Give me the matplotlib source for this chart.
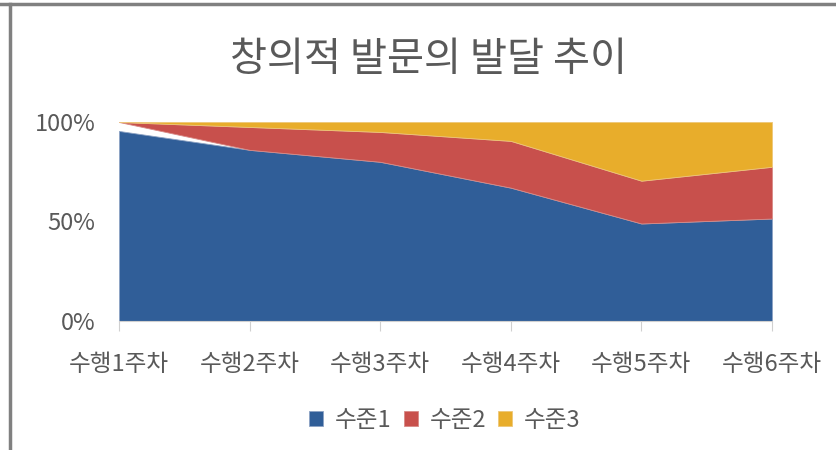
import matplotlib.pyplot as plt
import numpy as np

plt.rcParams['font.family'] = ['Noto Sans CJK KR', 'DejaVu Sans']

weeks = ["수행1주차", "수행2주차", "수행3주차", "수행4주차", "수행5주차", "수행6주차"]
level1 = [95.5, 86, 80, 67, 49, 51.5]
level2 = [0, 11.5, 15, 23.5, 21.5, 26]
level3 = [0, 2.5, 5, 9.5, 29.5, 22.5]
series_names = ["수준1", "수준2", "수준3"]
colors = ["#305E98", "#C8504C", "#E8AD2B"]
text_color = "#595959"

x = np.arange(len(weeks))
l1 = np.array(level1)
l2 = np.array(level2)
l3 = np.array(level3)

fig = plt.figure(figsize=(8.36, 4.5), dpi=100)
ax = fig.add_axes([119 / 836, 1 - 321 / 450, (772 - 119) / 836, (321 - 122) / 450])

# blue from the bottom, red and yellow hang from the top
ax.fill_between(x, 0, l1, color=colors[0], lw=0.6, edgecolor="#8da3c4", label=series_names[0])
ax.fill_between(x, 100 - l3 - l2, 100 - l3, color=colors[1], lw=0.6, edgecolor="#d88a86", label=series_names[1])
ax.fill_between(x, 100 - l3, 100, color=colors[2], lw=0.6, edgecolor="#eec778", label=series_names[2])

ax.set_xlim(0, len(weeks) - 1)
ax.set_ylim(0, 100)
ax.set_yticks([0, 50, 100])
ax.set_yticklabels(["0%", "50%", "100%"])
ax.set_xticks(x)
ax.set_xticklabels(weeks)

for s in ["top", "right", "left"]:
    ax.spines[s].set_visible(False)
ax.spines["bottom"].set_color("#d0d0d0")
ax.tick_params(axis="y", length=0, pad=17, labelsize=17, labelcolor=text_color)
ax.tick_params(axis="x", length=7, color="#d0d0d0", pad=16, labelsize=17, labelcolor=text_color)

fig.text(0.512, 0.868, "창의적 발문의 발달 추이", ha="center", va="center",
         fontsize=29, color=text_color, fontweight="light")

leg = fig.legend(loc="center", bbox_to_anchor=(0.532, 0.065), ncol=3, frameon=False,
                 fontsize=17, handlelength=0.6, handleheight=0.6, handletextpad=0.5,
                 columnspacing=0.5, labelcolor=text_color)

# frame lines on the top and left edges
fig.add_artist(plt.Line2D([0, 1], [1 - 4 / 450, 1 - 4 / 450], color="#808080", lw=2.5))
fig.add_artist(plt.Line2D([9.5 / 836, 9.5 / 836], [0, 1 - 4 / 450], color="#808080", lw=2.5))

fig.savefig("out.png", dpi=100)
